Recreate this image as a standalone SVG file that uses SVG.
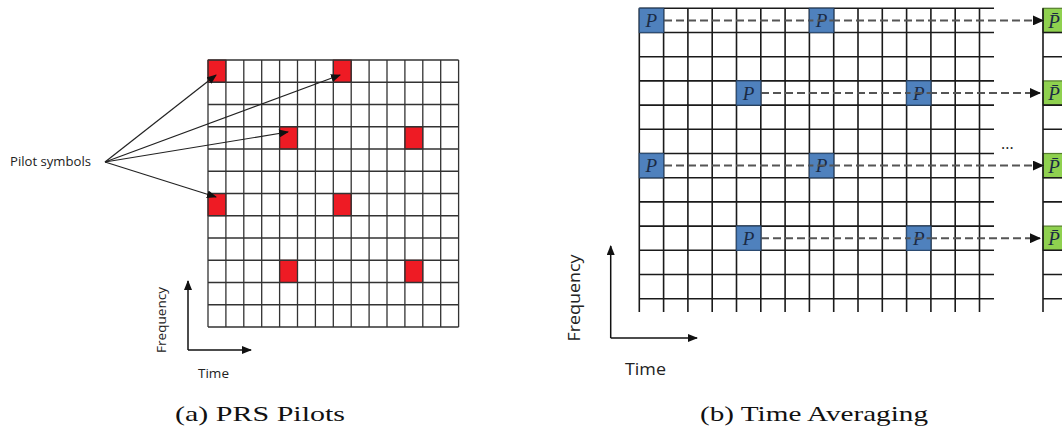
<svg xmlns="http://www.w3.org/2000/svg" width="1062" height="434" viewBox="0 0 1062 434">
<style>
.bg{fill:#ffffff}
.lg{stroke:#333;stroke-width:1.3;fill:none}
.rg{stroke:#1a1a1a;stroke-width:1.6;fill:none}
.red{fill:#ee1b24;stroke:#7a1010;stroke-width:1}
.blue{fill:#4f81bd;stroke:#2c4d75;stroke-width:1.2}
.green{fill:#8fd14f;stroke:#557f2c;stroke-width:1.2}
.p{font-family:"Liberation Serif",serif;font-style:italic;font-size:19px;fill:#1a2a44;text-anchor:middle}
.lab{font-family:"Open Sans",sans-serif;fill:#222}
.cap{font-family:"Liberation Serif",serif;font-size:22px;fill:#111}
.arr{stroke:#222;stroke-width:1.2;fill:none}
.dash{stroke:#555;stroke-width:2;stroke-dasharray:8 4;fill:none}
.ax{stroke:#111;stroke-width:1.5;fill:none}
</style>
<defs>
<marker id="ah" markerWidth="10" markerHeight="8" refX="9" refY="4" orient="auto" markerUnits="userSpaceOnUse"><path d="M0,0 L10,4 L0,8 Z" fill="#111"/></marker>
<marker id="ahd" markerWidth="11" markerHeight="10" refX="10" refY="5" orient="auto" markerUnits="userSpaceOnUse"><path d="M0,0 L11,5 L0,10 Z" fill="#111"/></marker>
</defs>
<rect class="bg" x="0" y="0" width="1062" height="434"/>

<!-- LEFT: PRS pilots -->
<g id="left-grid">
<rect x="208" y="60" width="250.6" height="267" fill="#fff"/>
<g id="left-pilots">
<rect class="red" x="208" y="60" width="17.9" height="22.25"/>
<rect class="red" x="333.3" y="60" width="17.9" height="22.25"/>
<rect class="red" x="279.6" y="126.75" width="17.9" height="22.25"/>
<rect class="red" x="404.9" y="126.75" width="17.9" height="22.25"/>
<rect class="red" x="208" y="193.5" width="17.9" height="22.25"/>
<rect class="red" x="333.3" y="193.5" width="17.9" height="22.25"/>
<rect class="red" x="279.6" y="260.25" width="17.9" height="22.25"/>
<rect class="red" x="404.9" y="260.25" width="17.9" height="22.25"/>
</g>
<path class="lg" d="M208,60V327 M225.9,60V327 M243.8,60V327 M261.7,60V327 M279.6,60V327 M297.5,60V327 M315.4,60V327 M333.3,60V327 M351.2,60V327 M369.1,60V327 M387,60V327 M404.9,60V327 M422.8,60V327 M440.7,60V327 M458.6,60V327
M208,60H458.6 M208,82.25H458.6 M208,104.5H458.6 M208,126.75H458.6 M208,149H458.6 M208,171.25H458.6 M208,193.5H458.6 M208,215.75H458.6 M208,238H458.6 M208,260.25H458.6 M208,282.5H458.6 M208,304.75H458.6 M208,327H458.6"/>
</g>
<g id="pilot-label">
<text class="lab" x="10" y="166" font-size="12.5" textLength="81" lengthAdjust="spacingAndGlyphs">Pilot symbols</text>
</g>
<g id="left-connectors">
<line class="arr" x1="105" y1="162" x2="216" y2="75" marker-end="url(#ah)"/>
<line class="arr" x1="105" y1="162" x2="340" y2="75" marker-end="url(#ah)"/>
<line class="arr" x1="105" y1="162" x2="288" y2="132" marker-end="url(#ah)"/>
<line class="arr" x1="105" y1="162" x2="216" y2="197" marker-end="url(#ah)"/>
</g>
<g id="left-axes">
<path class="ax" d="M188,350V281" marker-end="url(#ah)"/>
<path class="ax" d="M188,350H251" marker-end="url(#ah)"/>
<text class="lab" font-size="12.5" transform="translate(166,320) rotate(-90)" text-anchor="middle" textLength="66" lengthAdjust="spacingAndGlyphs">Frequency</text>
<text class="lab" x="198" y="378" font-size="12.5" textLength="31" lengthAdjust="spacingAndGlyphs">Time</text>
</g>

<!-- RIGHT: time averaging -->
<g id="right-grid">
<path class="rg" d="M639.3,8.3V312 M663.6,8.3V312 M687.9,8.3V312 M712.2,8.3V312 M736.5,8.3V312 M760.8,8.3V312 M785.1,8.3V312 M809.4,8.3V312 M833.7,8.3V312 M858,8.3V312 M882.3,8.3V312 M906.6,8.3V312 M930.9,8.3V312 M955.2,8.3V312 M979.5,8.3V312
M639.3,8.3H994 M639.3,32.5H994 M639.3,56.7H994 M639.3,80.9H994 M639.3,105.1H994 M639.3,129.3H994 M639.3,153.5H994 M639.3,177.7H994 M639.3,201.9H994 M639.3,226.1H994 M639.3,250.3H994 M639.3,274.5H994 M639.3,298.7H994"/>
</g>
<g id="green-column">
<rect class="green" x="1043" y="8.3" width="30" height="24.2"/>
<rect class="green" x="1043" y="80.9" width="30" height="24.2"/>
<rect class="green" x="1043" y="153.5" width="30" height="24.2"/>
<rect class="green" x="1043" y="226.1" width="30" height="24.2"/>
<path class="rg" d="M1043,8.3V312 M1043,32.5H1062 M1043,56.7H1062 M1043,105.1H1062 M1043,129.3H1062 M1043,177.7H1062 M1043,201.9H1062 M1043,250.3H1062 M1043,274.5H1062 M1043,298.7H1062"/>
</g>
<g id="connectors">
<line class="dash" x1="664" y1="20.4" x2="1043" y2="20.4" marker-end="url(#ahd)"/>
<line class="dash" x1="761" y1="93" x2="1040" y2="93" marker-end="url(#ahd)"/>
<line class="dash" x1="664" y1="165.6" x2="1043" y2="165.6" marker-end="url(#ahd)"/>
<line class="dash" x1="761" y1="238.2" x2="1040" y2="238.2" marker-end="url(#ahd)"/>
</g>
<g id="blue-pilots">
<g id="p00"><rect class="blue" x="639.3" y="8.3" width="24.3" height="24.2"/><text class="p" x="651.4" y="27">P</text></g>
<g id="p07"><rect class="blue" x="809.4" y="8.3" width="24.3" height="24.2"/><text class="p" x="821.5" y="27">P</text></g>
<g id="p34"><rect class="blue" x="736.5" y="80.9" width="24.3" height="24.2"/><text class="p" x="748.6" y="99.6">P</text></g>
<g id="p311"><rect class="blue" x="906.6" y="80.9" width="24.3" height="24.2"/><text class="p" x="918.7" y="99.6">P</text></g>
<g id="p60"><rect class="blue" x="639.3" y="153.5" width="24.3" height="24.2"/><text class="p" x="651.4" y="172.2">P</text></g>
<g id="p67"><rect class="blue" x="809.4" y="153.5" width="24.3" height="24.2"/><text class="p" x="821.5" y="172.2">P</text></g>
<g id="p94"><rect class="blue" x="736.5" y="226.1" width="24.3" height="24.2"/><text class="p" x="748.6" y="244.8">P</text></g>
<g id="p911"><rect class="blue" x="906.6" y="226.1" width="24.3" height="24.2"/><text class="p" x="918.7" y="244.8">P</text></g>
</g>
<g id="dash-through">
<line class="dash" x1="809.4" y1="20.4" x2="833.7" y2="20.4" stroke-dashoffset="4"/>
<line class="dash" x1="906.6" y1="93" x2="930.9" y2="93" stroke-dashoffset="4"/>
<line class="dash" x1="809.4" y1="165.6" x2="833.7" y2="165.6" stroke-dashoffset="4"/>
<line class="dash" x1="906.6" y1="238.2" x2="930.9" y2="238.2" stroke-dashoffset="4"/>
</g>
<g id="green-labels">
<text class="p" x="1054" y="27.5">P̄</text>
<text class="p" x="1054" y="100">P̄</text>
<text class="p" x="1054" y="172.6">P̄</text>
<text class="p" x="1054" y="245.2">P̄</text>
</g>
<g id="ellipsis">
<text class="lab" x="1001" y="149" font-size="16" fill="#3a5a8a">...</text>
</g>
<g id="right-axes">
<path class="ax" d="M610.7,338V246" marker-end="url(#ah)"/>
<path class="ax" d="M610.7,338H697" marker-end="url(#ah)"/>
<text class="lab" font-size="16" transform="translate(580,298) rotate(-90)" text-anchor="middle" textLength="87" lengthAdjust="spacingAndGlyphs">Frequency</text>
<text class="lab" x="625" y="375" font-size="16" textLength="41" lengthAdjust="spacingAndGlyphs">Time</text>
</g>

<g id="captions">
<text class="cap" x="175" y="421" textLength="170" lengthAdjust="spacingAndGlyphs">(a) PRS Pilots</text>
<text class="cap" x="700" y="421" textLength="228" lengthAdjust="spacingAndGlyphs">(b) Time Averaging</text>
</g>
</svg>
